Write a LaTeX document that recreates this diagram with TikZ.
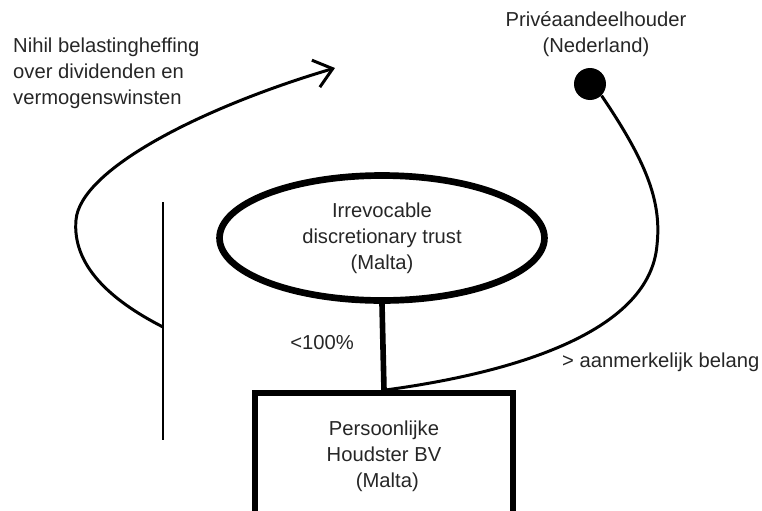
\documentclass[tikz,border=0pt]{standalone}
\usepackage{fontspec}
\setmainfont{Liberation Sans}
\usetikzlibrary{shapes.geometric,arrows.meta}

\begin{document}
\begin{tikzpicture}[x=0.02cm,y=-0.02cm,
        txt/.style={font=\fontsize{11.5}{14.7}\selectfont,text=black!85,align=center},
        thin line/.style={line width=1.7pt},
        thick line/.style={line width=3.2pt}]
        \clip (0,0) rectangle (762,511);

        \node[line width=3.8pt,draw,ellipse,minimum width=6.5cm,minimum height=2.5cm,inner sep=0pt,txt] (trust) at (382,238)
            {Irrevocable\\discretionary trust\\(Malta)};
        \node[thick line,draw,rectangle,minimum width=5.16cm,minimum height=2.52cm,txt] (bv) at (384,456)
            {Persoonlijke\\Houdster BV\\\,\,(Malta)};
        \node[circle,fill=black,minimum size=0.64cm,inner sep=0pt] (holder) at (590,84) {};

        \node[txt] (holdertxt) at (596,34) {Privéaandeelhouder\\(Nederland)};
        \node[txt,align=left,anchor=west] (nihil) at (7,73) {Nihil belastingheffing\\over dividenden en\\vermogenswinsten};
        \node[txt] (pct) at (322,343) {<100\%};
        \node[txt,anchor=west] (belang) at (556,362) {> aanmerkelijk belang};

        % trust owns the BV
        \draw[thick line] (trust.south) -- (bv.north);

        % holder to BV
        \draw[thin line] (holder.south east) .. controls (645,160) and (662,200) .. (657,245)
            .. controls (650,330) and (520,372) .. (bv.north);

        % flow past the trust
        \coordinate (barbot) at (163,440);
        \coordinate (bartop) at (163,202);
        \coordinate (flowstart) at (163,327);
        \coordinate (flowend) at (335,68);
        \draw[line width=1.7pt] (bartop) -- (barbot);
        \draw[thin line,-{Straight Barb[length=10pt,width=16pt,line width=1.7pt]}] (flowstart)
            .. controls (110,300) and (72,265) .. (76,220)
            .. controls (80,170) and (200,108) .. (flowend);
\end{tikzpicture}
\end{document}
